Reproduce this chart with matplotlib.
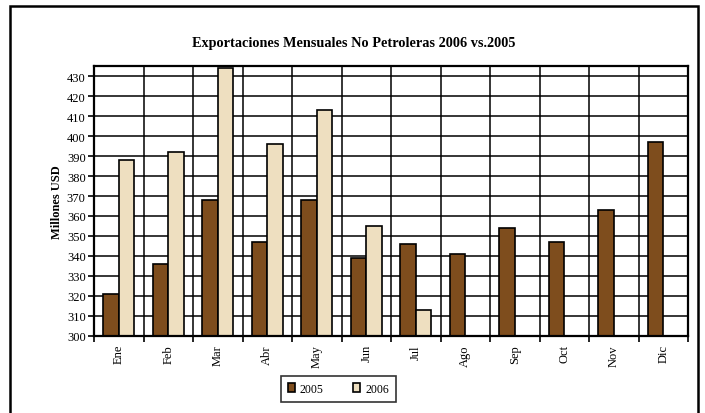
import matplotlib
matplotlib.use("Agg")
import matplotlib.pyplot as plt
import numpy as np
from matplotlib.patches import Rectangle

months = ["Ene", "Feb", "Mar", "Abr", "May", "Jun", "Jul", "Ago", "Sep", "Oct", "Nov", "Dic"]
v2005 = [321, 336, 368, 347, 368, 339, 346, 341, 354, 347, 363, 397]
v2006 = [388, 392, 434, 396, 413, 355, 313]
yticks = list(range(300, 431, 10))

plt.rcParams['font.family'] = ['Liberation Serif', 'DejaVu Serif']

fig = plt.figure(figsize=(7.05, 4.14), dpi=100)
fig.patch.set_facecolor('white')
fig.add_artist(Rectangle((10/705, -0.01), (698-10)/705, 1 - 7/414 + 0.01,
                         transform=fig.transFigure, fill=False, lw=1.8, ec='black'))

ax = fig.add_axes([94/705, 1-336.7/414, (688-94)/705, (336.7-67.3)/414])
x = np.arange(len(months))
w = 0.315
c2005 = '#7E4D1D'
c2006 = '#EEDFC0'
ax.bar(x - w/2, np.array(v2005) - 300, bottom=300, width=w, color=c2005,
       edgecolor='black', linewidth=1.2, label='2005', zorder=3)
x6 = np.arange(len(v2006))
ax.bar(x6 + w/2, np.array(v2006) - 300, bottom=300, width=w, color=c2006,
       edgecolor='black', linewidth=1.2, label='2006', zorder=3)

ax.set_xlim(-0.5, len(months) - 0.5)
ax.set_ylim(300, 435)
ax.set_yticks(yticks)
ax.set_yticklabels([str(t) for t in yticks], fontsize=9)
ax.set_xticks(np.arange(-0.5, len(months), 1.0))
ax.set_xticklabels([])
ax.set_xticks(x, minor=True)
ax.set_xticklabels(months, minor=True, rotation=90, fontsize=9)
ax.tick_params(axis='x', which='minor', length=0, pad=6)
ax.tick_params(axis='x', which='major', length=4, width=1.2, direction='out')
ax.tick_params(axis='y', length=4, width=1.2, direction='out', pad=2)
ax.grid(True, which='major', color='black', linewidth=1.1, zorder=1)
ax.set_axisbelow(True)
for s in ax.spines.values():
    s.set_linewidth(1.6)
    s.set_zorder(4)

ax.set_ylabel("Millones USD", fontsize=9, fontweight='bold', labelpad=3)
fig.text(0.502, 1 - 43/414, "Exportaciones Mensuales No Petroleras 2006 vs.2005",
         ha='center', va='center', fontsize=10.3, fontweight='bold')

leg = fig.legend(loc='center', bbox_to_anchor=(338.5/705, 1 - 390/414), ncol=2,
                 fontsize=8.5, frameon=True, fancybox=False, edgecolor='black',
                 handlelength=0.6, handleheight=0.8, columnspacing=2.5, handletextpad=0.4,
                 borderpad=0.6)
leg.get_frame().set_linewidth(1.2)

fig.savefig("out.png", dpi=100)
